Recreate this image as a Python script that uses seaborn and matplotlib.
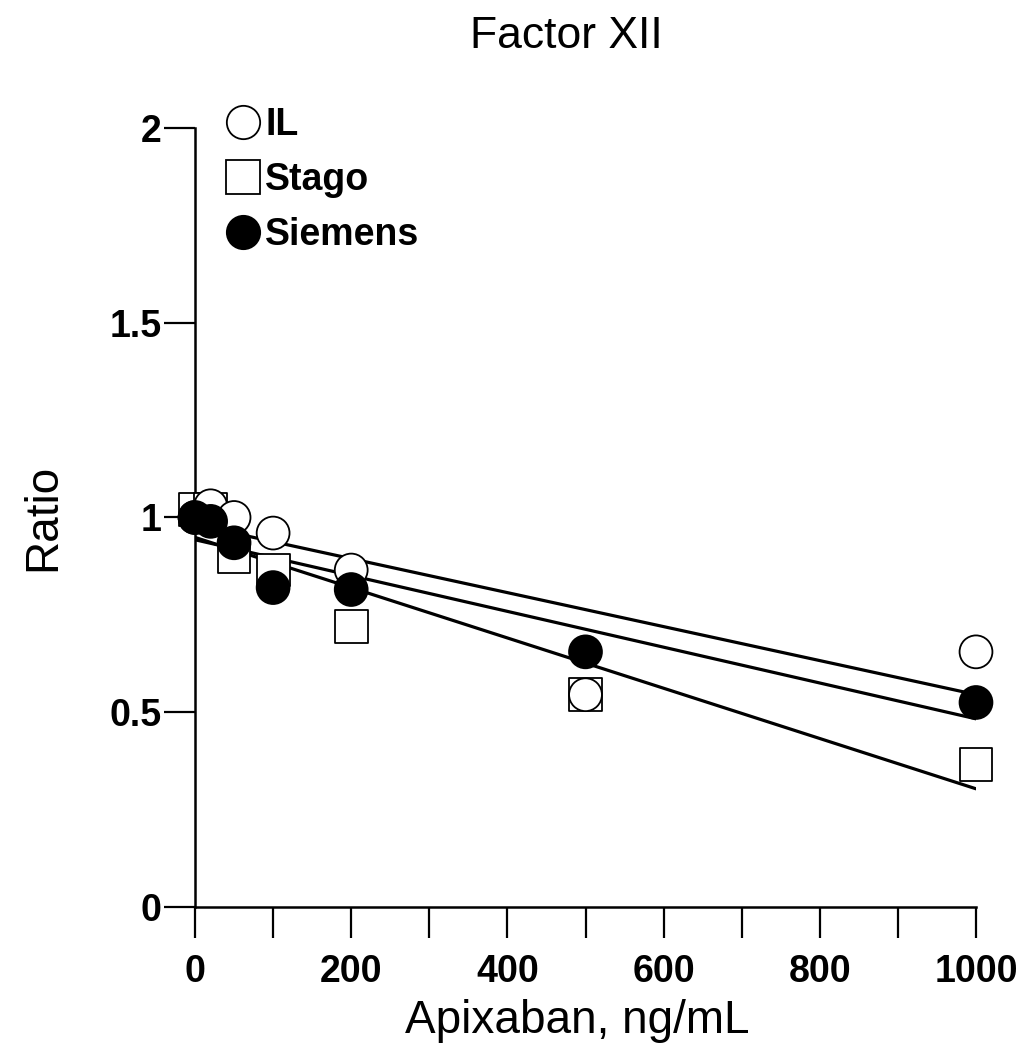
import numpy as np
import pandas as pd
import matplotlib
matplotlib.use("Agg")
import matplotlib.pyplot as plt
import seaborn as sns
from matplotlib.lines import Line2D

sns.set_style("ticks", {"axes.edgecolor": "black", "text.color": "black",
                        "axes.labelcolor": "black", "xtick.color": "black",
                        "ytick.color": "black"})
plt.rcParams['font.family'] = ['Liberation Sans', 'DejaVu Sans']

# data
dose = [0, 20, 50, 100, 200, 500, 1000]
il = [1.0, 1.03, 1.0, 0.96, 0.865, 0.545, 0.655]
stago = [1.02, 1.02, 0.90, 0.865, 0.72, 0.545, 0.365]
siemens = [1.0, 0.99, 0.935, 0.82, 0.815, 0.655, 0.525]
names = ["Stago", "IL", "Siemens"]
xtick_vals = list(range(0, 1001, 100))
ytick_vals = [0, 0.5, 1, 1.5, 2]
ytick_labels = ["0", "0.5", "1", "1.5", "2"]

df = pd.DataFrame({
    "dose": dose * 3,
    "ratio": stago + il + siemens,
    "inst": sum([[n] * len(dose) for n in names], []),
})

fig = plt.figure(figsize=(10.34, 10.49), dpi=100)
ax = fig.add_axes([0.1886, 0.1354, 0.7553, 0.7426])

# regression lines (behind the markers)
for n in names:
    sns.regplot(data=df[df.inst == n], x="dose", y="ratio", scatter=False, ci=None,
                truncate=True, ax=ax, line_kws=dict(color="black", lw=2.3, zorder=1))

sns.scatterplot(data=df, x="dose", y="ratio", hue="inst", style="inst",
                palette={"IL": "white", "Stago": "white", "Siemens": "black"},
                markers={"IL": "o", "Stago": "s", "Siemens": "o"},
                s=560, edgecolor="black", linewidth=1.3, ax=ax, legend=False,
                clip_on=False, zorder=3)

ax.set_xlim(0, 1000)
ax.set_ylim(0, 2)
ax.set_xticks(xtick_vals)
ax.set_xticklabels([str(v) if v % 200 == 0 else "" for v in xtick_vals],
                   fontsize=27, fontweight="bold")
ax.set_yticks(ytick_vals)
ax.set_yticklabels(ytick_labels, fontsize=27, fontweight="bold")
ax.tick_params(axis="x", length=22, width=1.6, pad=12, colors="black")
ax.tick_params(axis="y", length=22, width=1.6, pad=2, colors="black")
for s in ["top", "right"]:
    ax.spines[s].set_visible(False)
for s in ["left", "bottom"]:
    ax.spines[s].set_linewidth(1.8)
    ax.spines[s].set_color("black")

ax.set_xlabel("Apixaban, ng/mL", fontsize=33, color="black")
ax.set_ylabel("Ratio", fontsize=33, color="black")
ax.xaxis.set_label_coords(0.49, -0.118)
ax.yaxis.set_label_coords(-0.166, 0.5)
fig.text(0.548, 0.965, "Factor XII", fontsize=32, ha="center", va="center", color="black")

handles = [
    Line2D([], [], ls="", marker="o", ms=24, mfc="white", mec="black", mew=1.3),
    Line2D([], [], ls="", marker="s", ms=24, mfc="white", mec="black", mew=1.3),
    Line2D([], [], ls="", marker="o", ms=24, mfc="black", mec="black", mew=1.3),
]
ax.legend(handles, ["IL", "Stago", "Siemens"], loc="upper left",
          bbox_to_anchor=(-0.006, 1.07), frameon=False, handletextpad=0.1,
          labelspacing=0.5, prop=dict(size=27, weight="bold"), handlelength=1.0,
          labelcolor="black")

fig.savefig("out.png", dpi=100)
